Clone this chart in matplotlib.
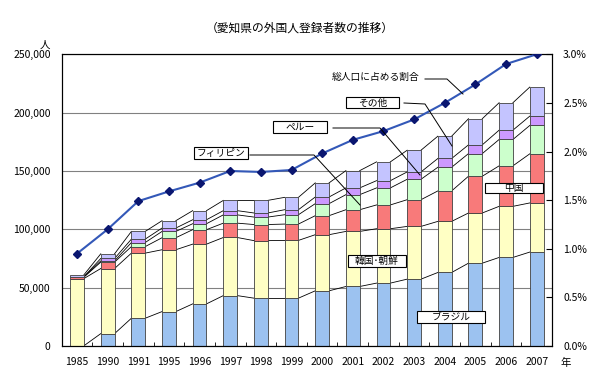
import numpy as np
import matplotlib.pyplot as plt
from matplotlib.patches import Rectangle
from matplotlib.lines import Line2D

plt.rcParams['font.family'] = ['Noto Sans CJK JP', 'DejaVu Sans']

years = ['1985', '1990', '1991', '1995', '1996', '1997', '1998', '1999',
         '2000', '2001', '2002', '2003', '2004', '2005', '2006', '2007']

# number of registered foreigners by nationality (persons)
brazil = [200, 10600, 23800, 29500, 36100, 43200, 41000, 41000,
          47300, 51000, 53900, 57300, 63000, 71000, 75900, 80500]
korea = [57600, 55800, 55800, 53000, 51200, 49800, 49300, 49500,
         48100, 47200, 46600, 45200, 43800, 43000, 43800, 42100]
china = [1200, 5500, 5600, 10300, 12400, 12300, 13800, 14000,
         16300, 18600, 20400, 22900, 26100, 31500, 34700, 42100]
philippines = [300, 1000, 3500, 5400, 5100, 7100, 6400, 8000,
               10300, 12900, 14600, 17500, 20300, 19400, 22600, 24300]
peru = [100, 2100, 2900, 2900, 3400, 3600, 3500, 4300,
        5700, 5800, 6200, 6300, 7500, 7500, 8000, 8000]
other = [1600, 4000, 6600, 6300, 7800, 8800, 10800, 10600,
         12100, 14800, 16100, 18600, 19100, 22400, 23500, 24900]

# share of total population (%)
share = [0.95, 1.20, 1.49, 1.59, 1.68, 1.80, 1.79, 1.81,
         1.98, 2.12, 2.21, 2.33, 2.50, 2.69, 2.90, 3.00]

series = [brazil, korea, china, philippines, peru, other]
colors = ['#9CC2F0', '#FFFFC4', '#F87A7A', '#CCFFCC', '#CC99FF', '#C4C4FF']

W, H = 596, 382


def px(x, y):
    return x / W, 1 - y / H


fig = plt.figure(figsize=(W / 100, H / 100), dpi=100)
ax = fig.add_axes([61.7 / W, 36 / H, (552 - 61.7) / W, (346 - 54.3) / H])

x = np.arange(len(years))
width = 0.45
bottom = np.zeros(len(years))
for vals, c in zip(series, colors):
    vals = np.array(vals)
    ax.bar(x, vals, width, bottom=bottom, color=c, edgecolor='#404040',
           linewidth=0.6, zorder=2)
    top = bottom + vals
    # series lines between the bars
    for i in range(len(x) - 1):
        ax.plot([x[i] + width / 2, x[i + 1] - width / 2], [top[i], top[i + 1]],
                color='black', lw=0.6, zorder=1.5)
    bottom = top

ax.set_xlim(-0.5, len(years) - 0.5)
ax.set_ylim(0, 250000)
ax.set_yticks(np.arange(0, 250001, 50000))
ax.set_yticklabels([f'{v:,}' for v in range(0, 250001, 50000)], fontsize=7.5)
ax.yaxis.grid(True, color='#808080', lw=0.8)
ax.set_axisbelow(True)
ax.set_xticks(x)
ax.set_xticklabels(years, fontsize=7.5)
ax.set_xticks(x[1:] - 0.5, minor=True)
ax.tick_params(axis='x', which='major', length=0, pad=8)
ax.tick_params(axis='x', which='minor', direction='in', length=3)
ax.tick_params(axis='y', length=0, pad=8)
for s in ax.spines.values():
    s.set_color('black')
    s.set_linewidth(0.8)

ax2 = ax.twinx()
ax2.plot(x, share, color='#3358B8', lw=1.5, marker='D', ms=4.5,
         mfc='#0A1670', mec='#0A1670', zorder=5)
ax2.set_ylim(0, 3.0)
ax2.set_yticks(np.arange(0, 3.01, 0.5))
ax2.set_yticklabels([f'{v:.1f}%' for v in np.arange(0, 3.01, 0.5)], fontsize=7.5)
ax2.tick_params(axis='y', direction='in', length=4, pad=8)
for s in ax2.spines.values():
    s.set_color('black')
    s.set_linewidth(0.8)

fig.text(*px(300, 28), '（愛知県の外国人登録者数の推移）', ha='center', va='center', fontsize=8.5)
fig.text(*px(45, 45), '人', ha='center', va='center', fontsize=7.5)
fig.text(*px(566, 363), '年', ha='center', va='center', fontsize=7.5)

# labelled boxes
boxes = [
    ('フィリピン', 194, 147, 248, 159),
    ('ペルー', 273, 121, 327, 133),
    ('その他', 346, 97, 399, 108),
    ('韓国･朝鮮', 348, 255, 406, 267),
    ('中国', 485, 183, 543, 193),
    ('ブラジル', 417, 311, 485, 323),
]
for name, x0, y0, x1, y1 in boxes:
    fx0, fy1 = px(x0, y1)
    fx1, fy0 = px(x1, y0)
    fig.patches.append(Rectangle((fx0, fy1), fx1 - fx0, fy0 - fy1, transform=fig.transFigure,
                                 fc='white', ec='black', lw=0.8, zorder=10))
    fig.text(*px((x0 + x1) / 2, (y0 + y1) / 2), name, ha='center', va='center',
             fontsize=7, zorder=11)

fig.text(*px(376, 77), '総人口に占める割合', ha='center', va='center', fontsize=7, zorder=11)

# leader lines
leaders = [
    [(425, 79), (447, 79), (463, 94)],
    [(404, 103), (425, 104), (452, 146)],
    [(333, 128), (380, 128), (420, 175)],
    [(250, 155), (314, 155), (360, 205)],
]
for pts in leaders:
    fx = [px(a, b)[0] for a, b in pts]
    fy = [px(a, b)[1] for a, b in pts]
    fig.lines.append(Line2D(fx, fy, transform=fig.transFigure, color='black', lw=0.7, zorder=9))

fig.savefig('out.png', dpi=100)
